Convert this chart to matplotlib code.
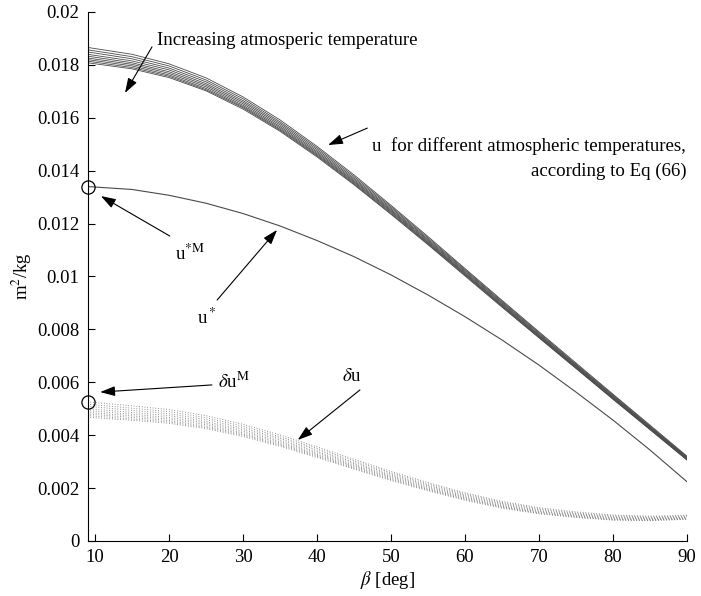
import matplotlib
matplotlib.use("Agg")
import matplotlib.pyplot as plt
import numpy as np

plt.rcParams['font.family'] = ['Liberation Serif', 'DejaVu Serif']
plt.rcParams['mathtext.fontset'] = 'stix'

# ---- data (values in 1e-5 m^2/kg) ----
beta = [9, 15, 20, 25, 30, 35, 40, 45, 50, 55, 60, 65, 70, 75, 80, 85, 90]

# u for different atmospheric temperatures (Eq 66), lowest temperature first
u_curves = [
    [1866, 1840, 1804, 1751, 1679, 1592, 1492, 1384, 1269, 1151, 1030, 910, 791, 673, 555, 438, 321],
    [1857, 1831, 1796, 1743, 1672, 1585, 1486, 1378, 1264, 1146, 1026, 906, 787, 669, 552, 435, 318],
    [1849, 1823, 1788, 1736, 1665, 1579, 1480, 1372, 1259, 1141, 1022, 902, 784, 666, 549, 432, 316],
    [1840, 1815, 1781, 1729, 1659, 1573, 1474, 1367, 1254, 1137, 1018, 899, 780, 663, 546, 430, 314],
    [1833, 1808, 1774, 1723, 1653, 1567, 1469, 1362, 1250, 1133, 1014, 895, 777, 661, 544, 428, 312],
    [1826, 1802, 1768, 1717, 1647, 1562, 1464, 1358, 1246, 1129, 1011, 892, 775, 658, 541, 426, 310],
    [1820, 1796, 1762, 1711, 1642, 1557, 1460, 1354, 1242, 1126, 1008, 889, 772, 656, 539, 424, 309],
    [1814, 1790, 1757, 1706, 1638, 1553, 1456, 1350, 1238, 1123, 1005, 887, 770, 654, 537, 422, 307],
    [1808, 1785, 1752, 1702, 1633, 1549, 1452, 1347, 1235, 1120, 1002, 884, 768, 652, 536, 421, 306],
]

# u* curve
u_star = [1340, 1329, 1307, 1277, 1238, 1191, 1136, 1075, 1006, 930, 848, 760, 665, 563, 457, 344, 224]

x_ticks = [10, 20, 30, 40, 50, 60, 70, 80, 90]
y_ticks = [0, 0.002, 0.004, 0.006, 0.008, 0.01, 0.012, 0.014, 0.016, 0.018, 0.02]
y_tick_labels = ['0', '0.002', '0.004', '0.006', '0.008', '0.01', '0.012',
                 '0.014', '0.016', '0.018', '0.02']

SCALE = 1e-5
b = np.array(beta, dtype=float)
U = np.array(u_curves, dtype=float) * SCALE
US = np.array(u_star, dtype=float) * SCALE
dU = U - US  # delta u = u - u*

fig = plt.figure(figsize=(7.01, 5.96), dpi=100)
ax = fig.add_axes([0.125, 0.0923, 0.855, 0.8876])

for row in U:
    ax.plot(b, row, color='#4a4a4a', lw=0.6)
ax.plot(b, US, color='#4a4a4a', lw=0.8)
for row in dU:
    ax.plot(b, row, color='#7a7a7a', lw=0.7, linestyle=(0, (0.8, 2.0)))

# circles marking maxima
ax.plot([b[0]], [US[0]], 'o', mfc='none', mec='k', mew=0.9, ms=9.5, clip_on=False, zorder=5)
ax.plot([b[0]], [dU[:, 0].max()], 'o', mfc='none', mec='k', mew=0.9, ms=9.5, clip_on=False, zorder=5)

ax.set_xlim(9, 90)
ax.set_ylim(0, 0.02)
ax.set_xticks(x_ticks)
ax.set_xticklabels([str(t) for t in x_ticks])
ax.set_yticks(y_ticks)
ax.set_yticklabels(y_tick_labels)
ax.tick_params(direction='in', length=5, width=0.8, labelsize=13.5, pad=6)
for s in ['top', 'right']:
    ax.spines[s].set_visible(False)
for s in ['left', 'bottom']:
    ax.spines[s].set_linewidth(0.8)

ax.set_xlabel(r'$\beta$ [deg]', fontsize=13.5, labelpad=2)
ax.set_ylabel(r'm$^2$/kg', fontsize=13.5, labelpad=2)

ap = dict(arrowstyle='-|>,head_length=0.9,head_width=0.3', color='k', lw=0.8,
          shrinkA=0, shrinkB=0)
fs = 13.6

ax.annotate('', xy=(14.05, 0.01694), xytext=(17.7, 0.01868), arrowprops=ap)
ax.text(18.4, 0.01894, 'Increasing atmosperic temperature', fontsize=fs,
        ha='left', va='center')

ax.annotate('', xy=(41.5, 0.01497), xytext=(46.8, 0.01561), arrowprops=ap)
ax.text(89.9, 0.01493, 'u  for different atmospheric temperatures,', fontsize=fs,
        ha='right', va='center')
ax.text(89.9, 0.01399, 'according to Eq (66)', fontsize=fs, ha='right', va='center')

ax.annotate('', xy=(10.8, 0.01304), xytext=(20.1, 0.01153), arrowprops=ap)
ax.text(20.8, 0.01085, r'u$^{*\mathrm{M}}$', fontsize=fs, ha='left', va='center')

ax.annotate('', xy=(34.6, 0.01176), xytext=(26.5, 0.00911), arrowprops=ap)
ax.text(23.8, 0.00842, r'u$^*$', fontsize=fs, ha='left', va='center')

ax.annotate('', xy=(10.7, 0.00563), xytext=(25.8, 0.0059), arrowprops=ap)
ax.text(26.6, 0.00600, r'$\delta$u$^{\mathrm{M}}$', fontsize=fs, ha='left', va='center')

ax.annotate('', xy=(37.4, 0.00382), xytext=(45.8, 0.00571), arrowprops=ap)
ax.text(43.4, 0.00620, r'$\delta$u', fontsize=fs, ha='left', va='center')

fig.savefig('out.png', dpi=100)
